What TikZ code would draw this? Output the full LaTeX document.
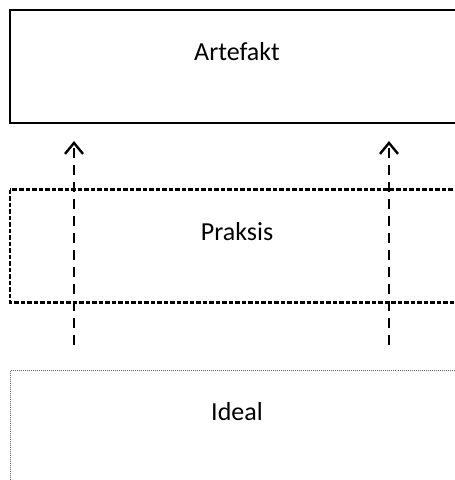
\documentclass[tikz,border=0pt]{standalone}
\usepackage{fontspec}
\setmainfont{Carlito}
\usetikzlibrary{arrows.meta}
\begin{document}
\begin{tikzpicture}[x=1pt,y=-1pt,
  lbl/.style={font=\fontsize{26}{30}\selectfont, inner sep=0pt, anchor=base},
  boxa/.style={draw=black, line width=2.5pt},
  boxb/.style={draw=black, line width=2.2pt, dash pattern=on 4.5pt off 2pt},
  boxc/.style={draw=black!60, line width=1.2pt, dash pattern=on 1pt off 1pt},
  flow/.style={draw=black, line width=2.5pt, dash pattern=on 10pt off 7pt,
    -{Straight Barb[length=11pt,width=18pt,line width=2.4pt]}}]
\useasboundingbox (0,0) rectangle (455,480);
% boxes
\draw[boxa] (10,10) rectangle (466,123);
\draw[boxb] (10,189.5) rectangle (466,302.5);
\draw[boxc] (10.5,370.5) rectangle (466,490);
% labels
\node[lbl] (artefakt) at (237,60) {Artefakt};
\node[lbl] (praksis) at (237,240) {Praksis};
\node[lbl] (ideal) at (237,420) {Ideal};
% arrow ends
\coordinate (s1) at (74,345);
\coordinate (e1) at (74,141);
\coordinate (s2) at (389,345);
\coordinate (e2) at (389,141);
\draw[flow] (s1) -- (e1);
\draw[flow] (s2) -- (e2);
\end{tikzpicture}
\end{document}
